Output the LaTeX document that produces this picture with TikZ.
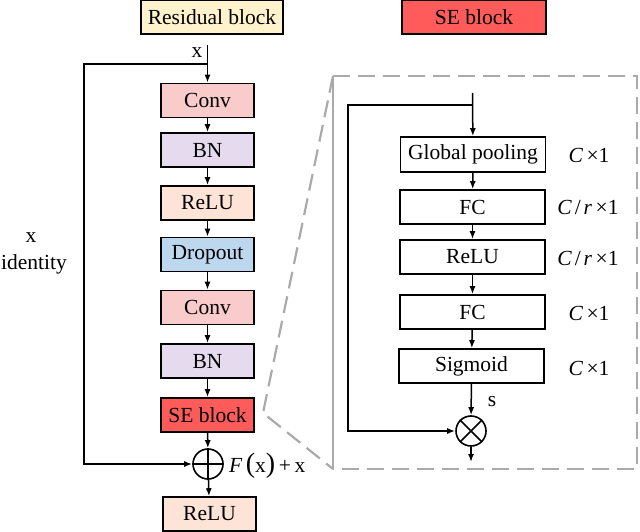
\documentclass[tikz,border=0pt]{standalone}
\usepackage{fontspec}
\setmainfont{Liberation Serif}
\usetikzlibrary{arrows.meta}
\definecolor{cpink}{RGB}{250,203,203}
\definecolor{clav}{RGB}{230,218,238}
\definecolor{cpeach}{RGB}{253,228,214}
\definecolor{cblue}{RGB}{189,215,238}
\definecolor{cred}{RGB}{255,91,91}
\definecolor{cyel}{RGB}{255,242,204}
\definecolor{cgray}{RGB}{170,170,170}
\tikzset{
  box/.style={draw=black, line width=1.6pt, minimum width=93pt, minimum height=34pt, inner sep=0pt, font=\fontsize{21.5}{24}\selectfont},
  sebox/.style={draw=black, line width=1.6pt, minimum width=145pt, minimum height=34pt, inner sep=0pt, font=\fontsize{21.5}{24}\selectfont},
  lab/.style={inner sep=0pt, font=\fontsize{21.5}{24}\selectfont},
  arr/.style={line width=1.5pt, -{Latex[length=8pt,width=6pt]}},
  ln/.style={line width=1.5pt},
  opc/.style={circle, draw=black, line width=1.6pt, minimum size=30pt, inner sep=0pt},
  graydash/.style={draw=cgray, line width=2.2pt, dash pattern=on 17pt off 8pt},
}
\begin{document}
\begin{tikzpicture}[x=1pt,y=-1pt]
\useasboundingbox (0,0) rectangle (640,532);
% titles
\node[box, fill=cyel, minimum width=142pt] (t1) at (212,17) {Residual block};
\node[box, fill=cred, minimum width=144pt] (t2) at (474,17) {SE block};
% gray zoom frame
\draw[graydash] (333,76) -- (263,413) -- (333,469);
\draw[graydash] (333,76) -- (637,76) -- (637,469) -- (333,469);
\draw[draw=cgray, line width=2.2pt] (333,76) -- (333,469);
% residual block
\coordinate (in0) at (207.5,45);
\coordinate (sk0) at (207.5,64);
\coordinate (sk1) at (84,64);
\coordinate (sk2) at (84,464);
\node[lab] (xin) at (197,53) {x};
\node[box, fill=cpink] (conv1) at (207.5,100.5) {Conv};
\node[box, fill=clav] (bn1) at (207.5,150) {BN};
\node[box, fill=cpeach] (relu1) at (207.5,203) {ReLU};
\node[box, fill=cblue] (drop) at (207.5,254.5) {Dropout};
\node[box, fill=cpink] (conv2) at (207.5,307.5) {Conv};
\node[box, fill=clav] (bn2) at (207.5,361) {BN};
\node[box, fill=cred] (se) at (207.5,415) {SE block};
\node[opc] (plus) at (208,464) {};
\draw[ln] (plus.north) -- (plus.south) (plus.west) -- (plus.east);
\node[box, fill=cpeach] (relu2) at (209.5,514) {ReLU};
\node[lab, anchor=west] (fx) at (229,466) {{\itshape F}\,{\fontsize{28}{28}\selectfont(}x{\fontsize{28}{28}\selectfont)}\,+\,x};
\node[lab] (xid) at (31,238) {x};
\node[lab, anchor=west] (ident) at (1,264) {identity};
\draw[arr] (in0) -- (conv1);
\draw[arr] (conv1) -- (bn1);
\draw[arr] (bn1) -- (relu1);
\draw[arr] (relu1) -- (drop);
\draw[arr] (drop) -- (conv2);
\draw[arr] (conv2) -- (bn2);
\draw[arr] (bn2) -- (se);
\draw[arr] (se) -- (plus);
\draw[arr] (plus) -- (relu2);
\draw[arr] (sk0) -- (sk1) -- (sk2) -- (plus.west);
% SE block detail
\coordinate (sin) at (472.5,93);
\coordinate (ss0) at (472.5,105);
\coordinate (ss1) at (348,105);
\coordinate (ss2) at (348,431);
\coordinate (sout) at (471,462);
\node[sebox, minimum height=35pt] (gp) at (473,154.5) {Global pooling};
\node[sebox] (fc1) at (472.5,207) {FC};
\node[sebox] (relu3) at (472.5,257) {ReLU};
\node[sebox] (fc2) at (472.5,312) {FC};
\node[sebox] (sig) at (471.5,366) {Sigmoid};
\node[opc] (times) at (471,431) {};
\draw[ln] (times.north west) -- (times.south east) (times.north east) -- (times.south west);
\node[lab] (s) at (492,402) {s};
\draw[arr] (sin) -- (gp);
\draw[arr] (gp) -- (fc1);
\draw[arr] (fc1) -- (relu3);
\draw[arr] (relu3) -- (fc2);
\draw[arr] (fc2) -- (sig);
\draw[arr] (sig) -- (times);
\draw[arr] (times) -- (sout);
\draw[arr] (ss0) -- (ss1) -- (ss2) -- (times.west);
% dimension labels
\node[lab] (d1) at (589,155) {{\itshape C}\,×1};
\node[lab] (d2) at (588,207) {{\itshape C}\kern3pt/\kern3pt{\itshape r}\,×1};
\node[lab] (d3) at (588,258) {{\itshape C}\kern3pt/\kern3pt{\itshape r}\,×1};
\node[lab] (d4) at (589,313) {{\itshape C}\,×1};
\node[lab] (d5) at (589,368) {{\itshape C}\,×1};
\end{tikzpicture}
\end{document}
